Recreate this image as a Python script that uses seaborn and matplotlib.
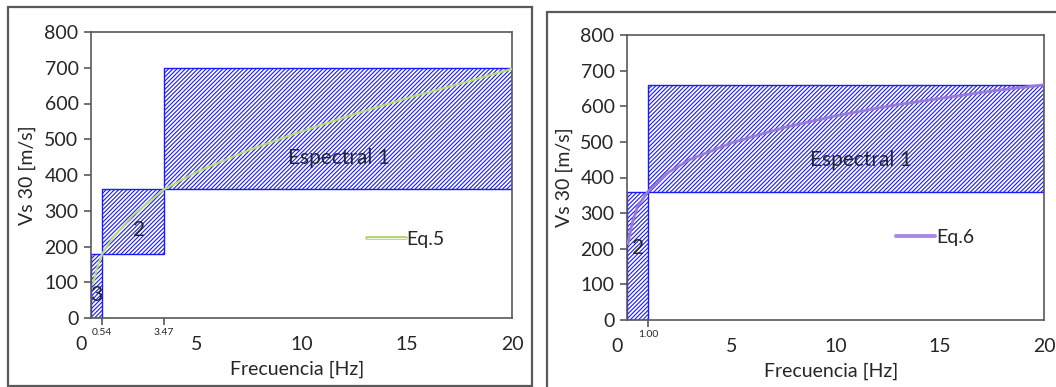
import numpy as np
import pandas as pd
import matplotlib
matplotlib.use("Agg")
import matplotlib.pyplot as plt
import matplotlib.patheffects as pe
import matplotlib.transforms as mtransforms
from matplotlib.patches import Rectangle
from matplotlib.lines import Line2D
import seaborn as sns

# ---- data ----
# left chart: spectral zones (frequency range, Vs30 range)
zones5_f_lo = [0.0, 0.54, 3.47]
zones5_f_hi = [0.54, 3.47, 20.0]
zones5_v_lo = [0, 180, 360]
zones5_v_hi = [180, 360, 700]
zones5_names = ["3", "2", "Espectral 1"]
zones5_label_xy = [(0.24, 64), (2.27, 246), (11.8, 448)]

eq5_f = [0.1, 0.25, 0.54, 1, 2, 3.47, 5, 7.5, 10, 12.5, 15, 17.5, 20]
eq5_v = [95, 134, 180, 222, 288, 360, 408, 470, 522, 570, 615, 655, 697]

# right chart
zones6_f_lo = [0.0, 1.0]
zones6_f_hi = [1.0, 20.0]
zones6_v_lo = [0, 360]
zones6_v_hi = [360, 660]
zones6_names = ["2", "Espectral 1"]
zones6_label_xy = [(0.53, 201), (11.2, 450)]

eq6_f = [0.05, 0.25, 0.5, 1, 2, 3, 5, 7.5, 10, 12.5, 15, 17.5, 20]
eq6_v = [215, 272, 318, 360, 415, 450, 497, 540, 573, 600, 622, 643, 660]

major_ticks = [0, 5, 10, 15, 20]
y_ticks = list(range(0, 801, 100))

sns.set_style("white")
plt.rcParams["font.family"] = ["Lato", "DejaVu Sans"]
plt.rcParams["hatch.linewidth"] = 0.8
plt.rcParams["hatch.color"] = "#0000ff"

GRAY = "#595959"
BLUE = "#1a1aff"
FS = 14

fig = plt.figure(figsize=(10.56, 3.87), dpi=100)

# panel borders
fig.add_artist(Rectangle((8 / 1056, 1 - 386 / 387), 524 / 1056, 379 / 387,
                         transform=fig.transFigure, fill=False,
                         edgecolor=GRAY, lw=1.6))
fig.add_artist(Rectangle((547 / 1056, -0.05), 0.6, 1 - 12 / 387 + 0.05,
                         transform=fig.transFigure, fill=False,
                         edgecolor=GRAY, lw=1.6))

ax1 = fig.add_axes([91 / 1056, 1 - 318 / 387, 421 / 1056, 286 / 387])
ax2 = fig.add_axes([627 / 1056, 1 - 320 / 387, 417 / 1056, 285 / 387])


def draw_panel(ax, f_lo, f_hi, v_lo, v_hi, names, label_xy,
               cf, cv, curve_color, eq_name, minor_ticks, leg_xy, outline):
    widths = np.array(f_hi) - np.array(f_lo)
    heights = np.array(v_hi) - np.array(v_lo)
    ax.bar(f_lo, heights, width=widths, bottom=v_lo, align="edge",
           facecolor="white", edgecolor=BLUE, hatch="/" * 8, lw=1.0, zorder=1)
    for name, (x, y) in zip(names, label_xy):
        ax.text(x, y, name, ha="center", va="center", fontsize=FS + 1, zorder=4)

    df = pd.DataFrame({"f": cf, "v": cv})
    if outline:
        sns.lineplot(data=df, x="f", y="v", ax=ax, color="#b9dc78", lw=1.6,
                     zorder=3)
        handle = Line2D([], [], color="#f4fae8", lw=0.8,
                        path_effects=[pe.Stroke(linewidth=2.6, foreground=curve_color),
                                      pe.Normal()])
    else:
        sns.lineplot(data=df, x="f", y="v", ax=ax, color="#9a7ad8", lw=2.0,
                     zorder=3)
        handle = Line2D([], [], color=curve_color, lw=2.8)
    ax.legend([handle], [eq_name], loc="center left", bbox_to_anchor=leg_xy,
              frameon=False, fontsize=FS, handlelength=2.0, handletextpad=0.05,
              borderaxespad=0, borderpad=0)

    ax.set_xlim(0, 20)
    ax.set_ylim(0, 800)
    ax.set_yticks(y_ticks)
    ax.set_xticks(major_ticks)
    ax.set_xticks(minor_ticks, minor=True)
    ax.set_xticklabels([f"{m:.2f}" for m in minor_ticks], minor=True)
    ax.tick_params(axis="x", which="major", direction="out", length=5,
                   width=1.2, color=GRAY, labelsize=FS, pad=8)
    ax.tick_params(axis="x", which="minor", direction="out", length=5,
                   width=1.2, color=GRAY, labelsize=7.5, pad=2, bottom=True)
    ax.tick_params(axis="y", direction="out", length=5, width=1.2,
                   color=GRAY, labelsize=FS, pad=4, left=True)
    # shift the "0" label a bit to the left like the original
    lbl0 = ax.get_xticklabels()[0]
    lbl0.set_transform(lbl0.get_transform() +
                       mtransforms.ScaledTranslation(-10 / 100, 0, fig.dpi_scale_trans))
    for s in ax.spines.values():
        s.set_color(GRAY)
        s.set_linewidth(1.2)
    ax.set_xlabel("Frecuencia [Hz]", fontsize=FS)
    ax.set_ylabel("Vs 30 [m/s]", fontsize=FS)
    ax.xaxis.set_label_coords(0.49, -0.15)
    ax.yaxis.set_label_coords(-0.13, 0.5)


draw_panel(ax1, zones5_f_lo, zones5_f_hi, zones5_v_lo, zones5_v_hi,
           zones5_names, zones5_label_xy, eq5_f, eq5_v, "#a9d15a", "Eq.5",
           [0.54, 3.47], (0.655, 0.276), outline=True)
draw_panel(ax2, zones6_f_lo, zones6_f_hi, zones6_v_lo, zones6_v_hi,
           zones6_names, zones6_label_xy, eq6_f, eq6_v, "#a888e0", "Eq.6",
           [1.0], (0.645, 0.29), outline=False)

fig.savefig("out.png", dpi=100)
